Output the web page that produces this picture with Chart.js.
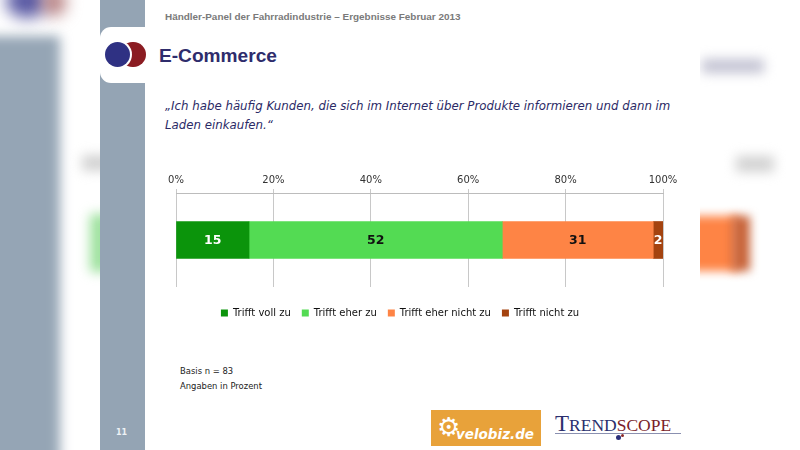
<!DOCTYPE html>
<html><head><meta charset="utf-8">
<script src="https://cdn.jsdelivr.net/npm/chart.js@4.4.1/dist/chart.umd.min.js"></script>
<style>
html,body{margin:0;padding:0;width:800px;height:450px;overflow:hidden;background:#fff;}
.abs{position:absolute;}
.t{position:absolute;white-space:nowrap;line-height:1;transform:translateY(-50%);}
</style></head><body>
<!-- blurred background outside the slide -->
<div class="abs" style="left:0;top:0;width:800px;height:450px;overflow:hidden;">
  <div class="abs" style="left:-30px;top:36px;width:90px;height:460px;background:#95a5b5;filter:blur(6px)"></div>
  <div class="abs" style="left:6px;top:-16px;width:42px;height:34px;border-radius:50%;background:#5a5aa4;filter:blur(8px)"></div>
  <div class="abs" style="left:42px;top:-12px;width:24px;height:28px;border-radius:50%;background:#b88080;filter:blur(8px)"></div>
  <div class="abs" style="left:82px;top:155px;width:30px;height:16px;background:#d2d2d2;filter:blur(6px)"></div>
  <div class="abs" style="left:90px;top:214px;width:20px;height:58px;background:#9ee29e;filter:blur(6px)"></div>
  <div class="abs" style="left:702px;top:59px;width:62px;height:14px;background:#c2c2d2;filter:blur(6px)"></div>
  <div class="abs" style="left:736px;top:156px;width:38px;height:16px;background:#d2d2d2;filter:blur(6px)"></div>
  <div class="abs" style="left:690px;top:216px;width:48px;height:55px;background:#fe8445;filter:blur(5px)"></div>
  <div class="abs" style="left:732px;top:216px;width:18px;height:55px;background:#c8643a;filter:blur(5px)"></div>
</div>
<!-- slide -->
<div class="abs" style="left:100px;top:0;width:600px;height:450px;background:#fff;"></div>
<div class="abs" style="left:100px;top:0;width:45px;height:450px;background:#94a4b4;"></div>
<div class="abs" style="left:100px;top:27px;width:80px;height:56px;background:#fff;border-radius:11px 0 0 11px;"></div>
<div class="abs" style="left:120px;top:41.5px;width:25.5px;height:25.5px;border-radius:50%;background:#8b1c22;"></div>
<div class="abs" style="left:102.5px;top:39.5px;width:29px;height:29px;border-radius:50%;background:#fff;"></div>
<div class="abs" style="left:104.5px;top:41.5px;width:25px;height:25px;border-radius:50%;background:#2f3183;"></div>

<div class="t" id="hdr" style="left:165px;top:16px;font:bold 10px 'Liberation Sans';color:#7a7a7a;">Händler-Panel der Fahrradindustrie – Ergebnisse Februar 2013</div>
<div class="t" id="ttl" style="left:159px;top:56px;font:bold 19px 'Liberation Sans';color:#2e2c6c;">E-Commerce</div>
<div class="t" id="q1" style="left:165px;top:106px;font:italic 12px 'DejaVu Sans';color:#2b2a66;">„Ich habe häufig Kunden, die sich im Internet über Produkte informieren und dann im</div>
<div class="t" id="q2" style="left:165px;top:125px;font:italic 12px 'DejaVu Sans';color:#2b2a66;">Laden einkaufen.“</div>

<div class="abs" style="left:137px;top:160px;width:546px;height:168px;"><canvas id="c"></canvas></div>

<div class="t" id="f1" style="left:180px;top:371px;font:9px 'DejaVu Sans';color:#222;">Basis n = 83</div>
<div class="t" id="f2" style="left:180px;top:386px;font:9px 'DejaVu Sans';color:#222;">Angaben in Prozent</div>
<div class="t" style="left:116px;top:432px;font:bold 8px 'DejaVu Sans';color:#eef2f6;">11</div>

<!-- logos -->
<div class="abs" style="left:431px;top:410px;width:110px;height:36px;background:#e8a23a;"></div>
<div class="t" style="left:437px;top:427px;font:26px 'DejaVu Sans';color:#fff;">⚙</div>
<div class="t" id="vb" style="left:456px;top:434px;font:italic bold 14px 'DejaVu Sans';color:#fff;">velobiz.de</div>
<div class="abs" style="left:555px;top:433px;width:126px;height:1px;background:#8a90b0;"></div>
<div class="abs" style="left:615.5px;top:434.5px;width:5px;height:5px;border-radius:50%;background:#2b2f7a;"></div>
<div class="abs" style="left:621px;top:434px;width:3px;height:3px;border-radius:50%;background:#8b2a2a;"></div>
<div class="abs" style="left:555px;top:412px;white-space:nowrap;font-family:'Liberation Serif';line-height:1;">
  <span style="font-size:23px;color:#2b2f6e;">T</span><span style="font-size:17.5px;color:#2b2f6e;">REND</span><span style="font-size:17.5px;color:#7b1e2a;">SCOPE</span>
</div>

<script>
// ---- data ----
const categories = ['Ich habe häufig Kunden'];
const seriesNames = ['Trifft voll zu', 'Trifft eher zu', 'Trifft eher nicht zu', 'Trifft nicht zu'];
const trifftVollZu = [15];
const trifftEherZu = [52];
const trifftEherNichtZu = [31];
const trifftNichtZu = [2];
const tickValues = [0, 20, 40, 60, 80, 100];
const seriesColors = ['#0b940b', '#53db53', '#fe8445', '#a4430f'];
const labelColors = ['#ffffff', '#111111', '#111111', '#ffffff'];

function fit(id, w) {
  const el = document.getElementById(id);
  const cur = parseFloat(getComputedStyle(el).fontSize);
  const m = el.getBoundingClientRect().width;
  el.style.fontSize = (cur * w / m) + 'px';
  return cur * w / m;
}
fit('hdr', 296);
fit('ttl', 118);
const qs = fit('q1', 506);
document.getElementById('q2').style.fontSize = qs + 'px';
const fs = fit('f2', 82);
document.getElementById('f1').style.fontSize = fs + 'px';
fit('vb', 78);

const valueLabels = {
  id: 'valueLabels',
  afterDatasetsDraw(chart) {
    const ctx = chart.ctx;
    chart.data.datasets.forEach((ds, i) => {
      const meta = chart.getDatasetMeta(i);
      meta.data.forEach((el, j) => {
        ctx.save();
        ctx.font = 'bold 12.5px "DejaVu Sans"';
        ctx.fillStyle = labelColors[i];
        ctx.textAlign = 'center';
        ctx.textBaseline = 'middle';
        ctx.fillText(String(ds.data[j]), (el.x + el.base) / 2, el.y + 1);
        ctx.restore();
      });
    });
  }
};

const allValues = [trifftVollZu, trifftEherZu, trifftEherNichtZu, trifftNichtZu];
new Chart(document.getElementById('c'), {
  type: 'bar',
  data: {
    labels: categories,
    datasets: seriesNames.map((n, i) => ({
      label: n,
      data: allValues[i],
      backgroundColor: seriesColors[i],
      borderWidth: 0,
      barThickness: 37
    }))
  },
  options: {
    indexAxis: 'y',
    responsive: true,
    maintainAspectRatio: false,
    animation: false,
    layout: { padding: { left: 0, right: 20, top: 0, bottom: 0 } },
    scales: {
      x: {
        position: 'top',
        stacked: true,
        min: 0, max: 100,
        afterBuildTicks(s) { s.ticks = tickValues.map(v => ({ value: v })); },
        afterFit(s) { s.height = 33; },
        ticks: {
          callback: v => v + '%',
          color: '#333',
          padding: 3,
          font: { family: 'DejaVu Sans', size: 10 }
        },
        grid: { color: '#c8c8c8', tickLength: 4, drawTicks: true },
        border: { color: '#bcbcbc' }
      },
      y: {
        stacked: true,
        ticks: { display: false },
        grid: { display: false },
        border: { display: false },
        afterFit(s) { s.width = 39; }
      }
    },
    plugins: {
      legend: {
        position: 'bottom',
        title: { display: true, text: '', padding: 0, font: { size: 8.34 } },
        labels: {
          boxWidth: 7, boxHeight: 7, padding: 11,
          color: '#111',
          font: { family: 'DejaVu Sans', size: 10 }
        }
      },
      tooltip: { enabled: false }
    }
  },
  plugins: [valueLabels]
});
</script>
</body></html>
